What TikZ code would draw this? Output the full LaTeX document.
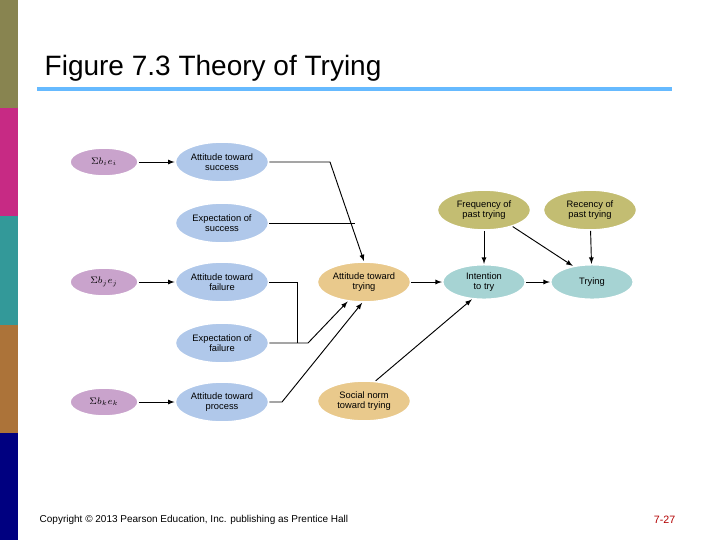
\documentclass[tikz,border=0pt]{standalone}
\usepackage{fontspec}
\setmainfont{Liberation Sans}
\usetikzlibrary{positioning,arrows,calc,shapes}
\definecolor{purp}{HTML}{C9A3CC}
\definecolor{lblue}{HTML}{B0C8EA}
\definecolor{tan}{HTML}{E9C98C}
\definecolor{olive}{HTML}{C3BD72}
\definecolor{teal2}{HTML}{A6D3D3}
\tikzset{
    factor/.style = {
        draw=white,
        shape=ellipse,
        line width=1.2pt,
        inner sep=0pt,
        font=\fontsize{7}{8}\selectfont,
        align=center
    },
    sumnode/.style = {factor, fill=purp, minimum width=51pt, minimum height=21pt},
    belief/.style = {factor, fill=lblue, minimum width=70pt, minimum height=30pt},
    trynode/.style = {factor, fill=tan, minimum width=70pt, minimum height=30pt},
    pastnode/.style = {factor, fill=olive, minimum width=70pt, minimum height=30pt},
    outnode/.style = {factor, fill=teal2, minimum width=62pt, minimum height=26pt},
    link/.style = {draw, line width=0.7pt, ->},
    >=latex,
}
\begin{document}
\begin{tikzpicture}[x=0.75pt,y=-0.75pt]
    \useasboundingbox (0,0) rectangle (720,540);
    % side bar
    \fill[olive!70!black] (0,0) rectangle (18,108);
    \fill[magenta!80!black] (0,108) rectangle (18,216);
    \fill[teal!80] (0,216) rectangle (18,325);
    \fill[brown!90!black] (0,325) rectangle (18,433);
    \fill[blue!50!black] (0,433) rectangle (18,540);
    \node[anchor=west, font=\fontsize{21}{24}\selectfont] (title) at (40,68) {Figure 7.3 Theory of Trying};
    \fill[blue!45!cyan!60] (37,87) rectangle (672,91);

    \node[sumnode] (sum1) at (104,162) {$\Sigma b_i e_i$};
    \node[belief] (succ) at (222,162) {Attitude toward\\success};
    \node[belief] (expsucc) at (222,223) {Expectation of\\success};
    \node[sumnode] (sum2) at (104,282) {$\Sigma b_j e_j$};
    \node[belief] (fail) at (222,282) {Attitude toward\\failure};
    \node[belief] (expfail) at (222,343) {Expectation of\\failure};
    \node[sumnode] (sum3) at (104,402) {$\Sigma b_k e_k$};
    \node[belief] (proc) at (222,402) {Attitude toward\\process};

    \node[trynode] (atttry) at (364,282) {Attitude toward\\trying};
    \node[trynode] (social) at (364,401) {Social norm\\toward trying};
    \node[pastnode] (freq) at (484,210) {Frequency of\\past trying};
    \node[pastnode] (recent) at (590,210) {Recency of\\past trying};
    \node[outnode] (intent) at (484,282) {Intention\\to try};
    \node[outnode] (trying) at (592,282) {Trying};

    \coordinate (j1) at (330,162);
    \coordinate (j2) at (297,343);
    \coordinate (j3) at (308,343);
    \coordinate (j4) at (282,402);

    \path[link] (sum1) -- (succ);
    \path[link] (sum2) -- (fail);
    \path[link] (sum3) -- (proc);
    \path[link] (succ.east) -- (j1) -- (atttry.north);
    \path[draw, line width=0.7pt] (expsucc.east) -- (355,223);
    \path[draw, line width=0.7pt] (fail.east) -| (j2);
    \path[link] (expfail.east) -- (j3) -- (atttry.230);
    \path[link] (proc.east) -- (j4) -- (atttry.265);
    \path[link] (atttry) -- (intent);
    \path[link] (intent) -- (trying);
    \path[link] (social.60) -- (intent.235);
    \path[link] (freq) -- (intent);
    \path[link] (recent) -- (trying);
    \path[link] (freq.-30) -- (trying.140);

    \node[anchor=west, font=\fontsize{7.5}{9}\selectfont] (copy) at (35,520) {Copyright © 2013 Pearson Education, Inc. publishing as Prentice Hall};
    \node[anchor=east, font=\fontsize{8}{9}\selectfont, text=red!70!black] (page) at (680,520) {7-27};
\end{tikzpicture}
\end{document}
